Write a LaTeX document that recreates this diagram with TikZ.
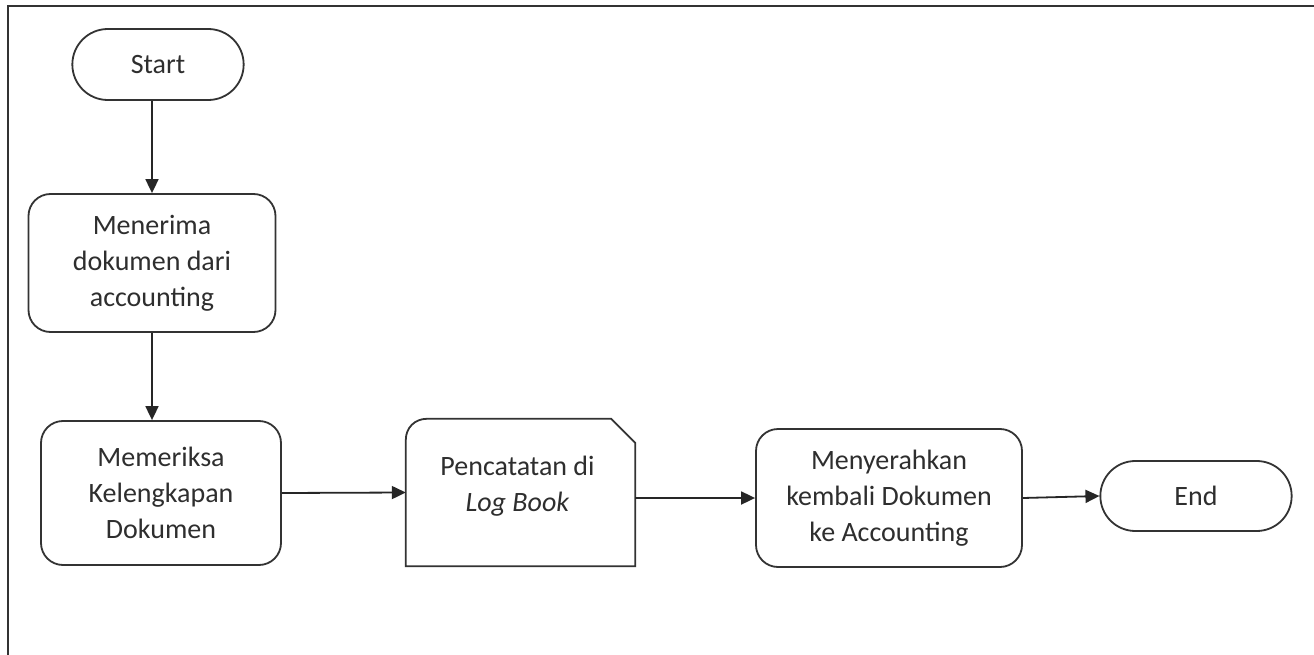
\documentclass[tikz,border=0pt]{standalone}
\usepackage{fontspec}
\setmainfont{Carlito}
\usetikzlibrary{arrows.meta,calc,shapes.misc}
\begin{document}
\begin{tikzpicture}[x=1pt,y=-1pt,
  lc/.style={draw=black!80, line width=1.8pt},
  txt/.style={font=\fontsize{28}{36}\selectfont, text=black!82, align=center},
  term/.style={lc, txt, rounded rectangle, minimum width=178pt, minimum height=71pt},
  proc/.style={lc, txt, rounded corners=22pt},
  arr/.style={draw=black!85, line width=1.8pt, -{Triangle[length=14pt,width=13pt]}}]
\useasboundingbox (0,0) rectangle (1314,655);
\fill[white] (0,0) rectangle (1314,655);
\draw[lc] (8,655) -- (8,6) -- (1314,6);

\node[term] (start) at (158,64.5) {Start};
\node[proc, minimum width=247pt, minimum height=138pt] (box1) at (152,263) {Menerima\\dokumen dari\\accounting};
\node[proc, minimum width=240pt, minimum height=144pt] (box2) at (161,493) {Memeriksa\\Kelengkapan\\Dokumen};
\node[minimum width=229pt, minimum height=147pt, inner sep=0pt] (log) at (520.5,492.5) {};
\draw[lc, line join=miter] (log.south west) -- ($(log.north west)+(0,21)$)
  .. controls ($(log.north west)+(0,9)$) and ($(log.north west)+(9,0)$) .. ($(log.north west)+(21,0)$)
  -- ($(log.north east)+(-24,0)$) -- ($(log.north east)+(0,24)$) -- (log.south east) -- cycle;
\node[txt] (logtxt) at ($(log.center)+(-3,-6)$) {Pencatatan di\\\textit{Log Book}};
\node[proc, minimum width=266pt, minimum height=138pt] (box4) at (889,498) {Menyerahkan\\kembali Dokumen\\ke Accounting};
\node[term, minimum width=198pt, minimum height=70pt] (end) at (1196,496) {End};

\draw[arr] (start.south -| box1.center) -- (box1.north);
\draw[arr] (box1.south) -- (box1.south |- box2.north);
\draw[arr] (box2.east) -- (log.west);
\draw[arr] (log.east |- box4.west) -- (box4.west);
\draw[arr] (box4.east) -- (end.west);
\end{tikzpicture}
\end{document}
